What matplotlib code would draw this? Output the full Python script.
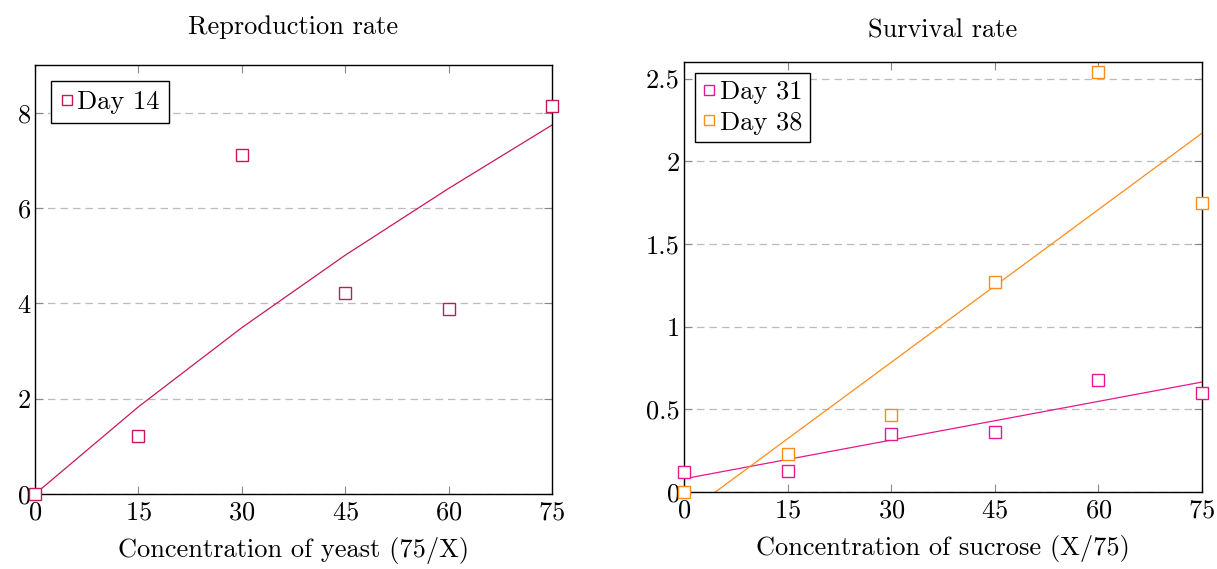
import numpy as np
import matplotlib.pyplot as plt

plt.rcParams['font.family'] = ['cmr10', 'DejaVu Serif']
plt.rcParams['mathtext.fontset'] = 'cm'
plt.rcParams['axes.formatter.use_mathtext'] = True

#%% Datos
conc = [0, 15, 30, 45, 60, 75]

# Reproduction rate (Day 14)
day14 = [0.0, 1.22, 7.12, 4.22, 3.89, 8.13]
trend14_x = [0, 15, 30, 45, 60, 75]
trend14_y = [0.0, 1.83, 3.49, 5.01, 6.41, 7.74]

# Survival rate
day31 = [0.12, 0.13, 0.35, 0.36, 0.68, 0.60]
day38 = [0.0, 0.23, 0.465, 1.27, 2.54, 1.75]
trend_x = [0, 75]
trend31_y = [0.08, 0.665]
trend38_y = [-0.14, 2.17]

col14 = '#C8185A'
col31 = '#E6178F'
col38 = '#FF8C1A'

fs = 19

fig = plt.figure(figsize=(12.17, 5.69), dpi=100)
ax1 = fig.add_axes([0.0288, 0.1318, 0.4248, 0.754])
ax2 = fig.add_axes([0.562, 0.1353, 0.4257, 0.7557])

def estilo(ax, ylim, yticks, yticklabels):
    ax.set_xlim(0, 75)
    ax.set_ylim(*ylim)
    ax.set_xticks(conc)
    ax.set_yticks(yticks)
    ax.set_yticklabels(yticklabels)
    ax.tick_params(direction='in', top=True, right=True, length=6,
                   color='#888888', labelsize=fs)
    ax.tick_params(axis='x', pad=5)
    ax.tick_params(axis='y', pad=3)
    ax.yaxis.grid(True, linestyle=(0, (6, 4)), color='#bbbbbb', linewidth=0.9)
    ax.set_axisbelow(True)
    for s in ax.spines.values():
        s.set_linewidth(1.0)

#%% Reproduction rate
ax1.plot(trend14_x, trend14_y, color=col14, linewidth=0.9)
ax1.plot(conc, day14, 's', mfc='white', mec=col14, ms=8.5, mew=1.0,
         label='Day 14', clip_on=False, zorder=5)
estilo(ax1, (0, 9), [0, 2, 4, 6, 8], ['0', '2', '4', '6', '8'])
ax1.set_title('Reproduction rate', fontsize=fs, pad=22)
ax1.set_xlabel('Concentration of yeast (75/X)', fontsize=fs, labelpad=9)
leg = ax1.legend(loc='upper left', fontsize=fs, handlelength=0.5, handletextpad=0.15,
                 borderpad=0.35, fancybox=False, edgecolor='black', framealpha=1,
                 borderaxespad=0.6, markerscale=0.85)
leg.get_frame().set_linewidth(1.0)

#%% Survival rate
ax2.plot(trend_x, trend31_y, color=col31, linewidth=0.9)
ax2.plot(trend_x, trend38_y, color=col38, linewidth=0.9)
ax2.plot(conc, day31, 's', mfc='white', mec=col31, ms=8.5, mew=1.0,
         label='Day 31', clip_on=False, zorder=5)
ax2.plot(conc, day38, 's', mfc='white', mec=col38, ms=8.5, mew=1.0,
         label='Day 38', clip_on=False, zorder=5)
estilo(ax2, (0, 2.6), [0, 0.5, 1, 1.5, 2, 2.5], ['0', '0.5', '1', '1.5', '2', '2.5'])
ax2.set_title('Survival rate', fontsize=fs, pad=18)
ax2.set_xlabel('Concentration of sucrose (X/75)', fontsize=fs, labelpad=9)
leg = ax2.legend(loc='upper left', fontsize=fs, handlelength=0.5, handletextpad=0.15,
                 borderpad=0.3, fancybox=False, edgecolor='black', framealpha=1,
                 borderaxespad=0.4, markerscale=0.85, labelspacing=0.25)
leg.get_frame().set_linewidth(1.0)

fig.savefig('out.png', dpi=100)
